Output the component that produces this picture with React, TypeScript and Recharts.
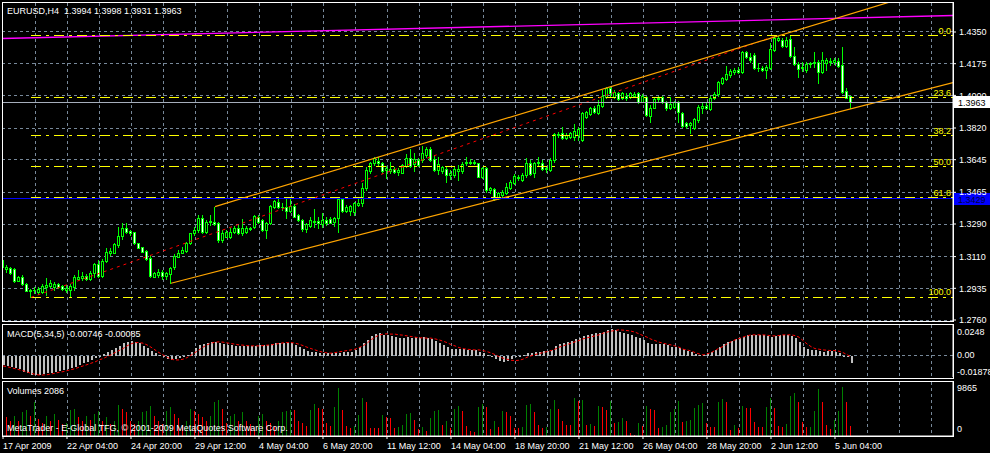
import React from 'react';
import { ComposedChart, Bar, Line, XAxis, YAxis, CartesianGrid, ReferenceLine, Cell } from 'recharts';

const FONT = "'Liberation Sans', Arial, sans-serif";
const GRID = '#778899';
const CANDLE = '#00ff00';
const YELLOW = '#ffff00';
const ORANGE = '#ffa500';

// EURUSD H4 candles, prices in pips (x 1e-4)
const opens = [
  13091,13044,13045,13040,12977,13000,12959,12920,12926,12917,
  12917,12941,12948,12944,12959,12948,12926,12926,12944,12988,
  12992,13003,12988,13018,13069,13003,13088,13132,13132,13174,
  13224,13266,13251,13244,13183,13161,13141,13101,13000,13009,
  13027,13003,13014,13051,13110,13132,13143,13183,13239,13257,
  13321,13248,13303,13303,13294,13202,13220,13217,13248,13266,
  13239,13248,13261,13275,13331,13312,13257,13294,13386,13413,
  13386,13386,13364,13389,13340,13312,13261,13279,13303,13308,
  13290,13312,13316,13303,13321,13426,13364,13364,13358,13395,
  13404,13487,13584,13625,13640,13625,13588,13584,13592,13579,
  13573,13610,13653,13621,13643,13643,13671,13706,13647,13588,
  13584,13592,13561,13561,13584,13584,13625,13634,13634,13625,
  13551,13597,13478,13481,13432,13450,13463,13487,13518,13551,
  13533,13561,13629,13570,13629,13625,13592,13588,13643,13787,
  13791,13763,13772,13773,13782,13754,13883,13896,13933,13901,
  13944,13993,14039,13993,14012,13984,13997,13993,13999,14012,
  13966,13993,13888,13933,13980,13993,13962,13929,13938,13962,
  13901,13846,13837,13818,13865,13933,13940,13925,13988,14006,
  14067,14091,14113,14128,14141,14128,14238,14214,14223,14150,
  14153,14141,14153,14251,14306,14306,14275,14312,14220,14172,
  14150,14141,14172,14177,14187,14131,14177,14190,14183,14190,
  14168,14025,13994,
];
const highs = [
  13095,13064,13051,13045,13003,13009,12963,12930,12941,12941,
  12959,12990,12981,12972,12963,12952,12953,12959,13009,13036,
  13027,13014,13032,13073,13091,13095,13156,13156,13187,13275,
  13297,13297,13257,13248,13187,13165,13147,13119,13025,13040,
  13036,13027,13055,13124,13147,13165,13193,13242,13275,13340,
  13340,13312,13340,13386,13303,13257,13257,13266,13279,13285,
  13316,13279,13275,13340,13340,13316,13303,13395,13423,13437,
  13404,13432,13432,13400,13345,13316,13297,13327,13371,13330,
  13353,13330,13327,13330,13441,13432,13395,13395,13413,13441,
  13515,13603,13634,13662,13662,13634,13610,13634,13603,13597,
  13621,13676,13702,13680,13653,13721,13717,13717,13671,13662,
  13610,13603,13588,13607,13616,13634,13662,13647,13643,13629,
  13607,13607,13492,13487,13469,13478,13515,13533,13566,13561,
  13573,13653,13643,13634,13662,13643,13610,13653,13791,13800,
  13827,13794,13800,13841,13828,13907,13914,13938,13944,13975,
  14030,14049,14049,14030,14021,14021,14012,14021,14017,14021,
  14006,13999,13947,13993,13999,13999,13969,13993,13969,13969,
  13907,13855,13855,13877,13947,13966,13957,13999,14021,14080,
  14104,14164,14146,14153,14159,14245,14245,14233,14233,14177,
  14164,14168,14288,14328,14328,14315,14325,14328,14269,14183,
  14187,14187,14187,14242,14196,14242,14205,14205,14205,14205,
  14269,14039,13998,
];
const lows = [
  13027,13027,13016,12972,12974,12953,12918,12885,12907,12902,
  12911,12898,12944,12926,12935,12926,12917,12885,12926,12981,
  12981,12981,12981,13000,13000,13000,13082,13119,13128,13165,
  13205,13239,13229,13180,13156,13134,13091,12996,12996,12996,
  12985,12985,12963,13040,13106,13128,13137,13180,13229,13248,
  13239,13242,13285,13285,13193,13193,13217,13211,13242,13235,
  13229,13242,13257,13270,13297,13253,13211,13290,13377,13377,
  13367,13321,13358,13327,13308,13253,13248,13275,13275,13266,
  13275,13285,13294,13279,13248,13358,13358,13340,13340,13389,
  13389,13478,13570,13616,13616,13573,13542,13570,13570,13561,
  13570,13603,13603,13584,13610,13634,13658,13640,13584,13566,
  13570,13524,13537,13551,13533,13573,13616,13619,13621,13548,
  13542,13469,13459,13423,13426,13441,13456,13481,13511,13533,
  13529,13551,13561,13551,13610,13588,13579,13584,13634,13772,
  13757,13757,13763,13754,13754,13749,13874,13892,13901,13896,
  13938,13988,13993,13988,13975,13980,13975,13988,13993,13957,
  13962,13888,13855,13929,13969,13957,13920,13925,13929,13855,
  13828,13818,13791,13815,13855,13901,13925,13920,13980,13999,
  14061,14085,14104,14117,14122,14122,14209,14187,14146,14135,
  14135,14098,14146,14245,14301,14269,14269,14214,14168,14104,
  14135,14131,14159,14159,14067,14122,14141,14168,14172,14159,
  14012,13984,13931,
];
const closes = [
  13051,13051,13021,12977,12996,12959,12922,12926,12924,12930,
  12948,12953,12963,12959,12941,12930,12935,12948,12996,13000,
  13003,12988,13021,13069,13003,13088,13137,13143,13180,13224,
  13266,13248,13239,13183,13159,13137,13097,13003,13018,13027,
  13003,13018,13045,13113,13132,13147,13183,13239,13257,13321,
  13248,13303,13308,13290,13202,13242,13248,13248,13270,13239,
  13266,13270,13270,13334,13303,13257,13294,13389,13417,13386,
  13382,13364,13389,13330,13312,13261,13290,13312,13308,13294,
  13312,13297,13297,13321,13426,13364,13386,13389,13404,13408,
  13487,13588,13625,13653,13629,13584,13597,13592,13579,13588,
  13616,13653,13610,13647,13616,13684,13702,13643,13588,13621,
  13603,13561,13573,13592,13592,13621,13634,13625,13625,13551,
  13597,13478,13487,13426,13459,13469,13492,13524,13555,13542,
  13561,13629,13566,13629,13634,13592,13597,13643,13787,13781,
  13763,13781,13791,13804,13815,13901,13907,13929,13907,13947,
  13999,14039,14012,14021,13980,14012,13984,14012,14006,13962,
  13999,13892,13933,13980,13988,13962,13929,13951,13962,13907,
  13833,13833,13846,13870,13938,13944,13933,13988,14006,14072,
  14095,14117,14135,14141,14128,14238,14214,14196,14150,14153,
  14141,14159,14257,14315,14315,14275,14306,14220,14172,14146,
  14159,14172,14177,14183,14131,14196,14196,14183,14196,14164,
  14021,13988,13963,
];

// MACD(5,34,5) histogram and signal, x 1e-4
const macdMain = [
  -90,-100,-107,-123,-133,-157,-173,-190,-190,-190,
  -180,-173,-167,-157,-147,-140,-133,-123,-107,-90,
  -73,-57,-40,-23,3,17,40,60,77,103,
  127,143,153,143,127,100,77,53,27,10,
  -13,-33,-40,-33,-23,-13,10,43,77,110,
  120,133,143,143,133,120,110,110,100,100,
  100,100,100,100,110,110,110,120,127,133,
  133,133,127,110,93,67,53,43,43,33,
  27,33,27,27,33,40,43,43,60,93,
  127,160,200,220,227,210,210,200,187,177,
  177,193,177,187,177,187,177,167,153,133,
  110,93,67,67,67,67,60,60,60,43,
  27,10,-13,-33,-47,-57,-47,-33,-13,3,
  10,27,33,43,43,53,53,60,100,120,
  133,143,153,167,177,200,210,220,227,233,
  243,260,267,260,243,233,220,210,193,177,
  160,133,120,120,120,120,110,93,93,77,
  67,53,43,20,10,10,27,43,60,87,
  120,143,153,167,177,193,210,210,210,210,
  210,200,187,200,210,210,210,200,177,143,
  93,67,60,60,53,43,53,53,43,27,
  -2,-13,-75,
];
const macdSignal = [
  -100,-107,-117,-127,-137,-147,-160,-173,-183,-190,
  -190,-187,-180,-173,-163,-157,-147,-137,-127,-113,
  -100,-87,-73,-60,-40,-27,-7,10,33,53,
  73,100,120,133,133,127,110,87,60,33,
  10,-13,-33,-40,-40,-33,-17,7,33,60,
  87,110,127,137,140,137,130,123,117,110,
  107,103,100,100,100,103,107,110,117,123,
  130,133,133,127,117,103,87,73,60,47,
  37,30,27,33,40,47,53,60,67,83,
  100,127,160,187,207,217,220,217,217,210,
  207,200,193,187,180,180,177,177,170,160,
  147,133,113,100,83,73,67,63,60,60,
  53,43,30,13,-7,-23,-33,-43,-47,-43,
  -33,-13,0,13,23,33,43,53,67,87,
  100,113,127,140,153,170,180,190,200,210,
  227,237,247,253,260,257,253,247,237,220,
  203,187,167,153,137,127,117,110,100,87,
  67,60,50,33,20,10,20,33,53,77,
  93,120,140,160,173,187,200,210,210,210,
  210,207,200,200,203,210,210,210,203,187,
  153,120,93,73,67,60,57,53,53,47,
  33,13,-9,
];

const volumes = [
  5100,3750,3050,4100,3050,4750,5250,4100,6800,3400,
  2700,4100,3050,4400,3200,2400,2700,5250,5450,3850,
  3050,4100,3200,4400,4950,3050,3750,2400,3050,6300,
  5450,4750,3050,2400,3050,4750,5100,6100,4100,3050,
  2400,5100,5900,4400,3600,2050,3050,5450,5100,4400,
  3750,3050,4100,6800,7350,5450,2700,4100,4400,3050,
  4750,3050,2400,1700,4100,4400,3050,2700,2050,3050,
  4750,4950,5250,5200,3050,2700,2050,5250,6450,5650,
  5450,2700,2050,5900,9700,5250,2050,1700,2050,4300,
  7700,6800,1700,1650,1600,4300,3900,3600,1550,1850,
  2200,4400,4550,3200,1350,1850,1000,3600,5100,5250,
  2250,3050,1700,5450,6100,5100,2050,1000,900,5900,
  6450,5900,1350,3050,1850,4950,4750,4100,1700,1550,
  1850,6300,6400,4750,2250,1700,1850,5450,7300,5450,
  3050,2250,2200,7700,7150,7300,2250,2500,2050,6100,
  5900,5250,7150,2700,2900,3600,3050,700,200,2700,
  2050,6100,5450,5250,1550,1850,2250,4750,5450,7150,
  2900,3050,3250,5650,6300,6600,2600,1850,1800,6800,
  7500,6800,1300,2250,1550,6100,5650,5600,2900,1850,
  1800,5900,7700,5650,2050,1850,2400,8150,8650,6950,
  2850,1850,1870,4950,9500,6800,2250,1500,3200,4950,
  9865,6800,2086,
];

const priceTicks = [1.435, 1.4175, 1.4, 1.382, 1.3645, 1.3465, 1.329, 1.311, 1.2935, 1.276];
const macdTicks = [0.0248, 0, -0.01878];
const macdTickText = ['0.0248', '0.00', '-0.01878'];
const macdTickShift = [0.5, -1.5, -2.5];
const volTicks = [9865, 0];
const volTickText = ['9865', '0'];
const volTickShift = [1, -7];

const timeBars = [0, 16, 32, 48, 64, 80, 96, 112, 128, 144, 160, 176, 192, 208];
const timeLabels = [
  '17 Apr 2009', '22 Apr 04:00', '24 Apr 20:00', '29 Apr 12:00', '4 May 04:00', '6 May 20:00',
  '11 May 12:00', '14 May 04:00', '18 May 20:00', '21 May 12:00', '26 May 04:00', '28 May 20:00',
  '2 Jun 12:00', '5 Jun 04:00',
];
const gridBars = [8, 16, 24, 32, 40, 48, 56, 64, 72, 80, 88, 96, 104, 112, 120, 128, 136, 144, 152, 160, 168, 176, 184, 192, 200, 208, 216, 224, 232];

const fibLevels = ['0.0', '23.6', '38.2', '50.0', '61.8', '100.0'];
const fibPrices = [1.4328, 1.3988, 1.3777, 1.3607, 1.3436, 1.2885];
const fibAnchors = [[7, 1.2885], [193, 1.4328]];
const upperTrend = [[53, 1.3386], [194, 1.433]];
const lowerTrend = [[42, 1.2963], [123, 1.3422]];
const magentaLine = [[-0.25, 1.4314], [237.5, 1.4441]];
const bidPrice = 1.3963;
const hLinePrice = 1.3429;

const X_DOMAIN: [number, number] = [-0.25, 237.5];
const X_END = 237.5;

const rows = opens.map((o, i) => ({
  i,
  open: o / 1e4,
  high: highs[i] / 1e4,
  low: lows[i] / 1e4,
  close: closes[i] / 1e4,
  hl: [lows[i] / 1e4, highs[i] / 1e4],
  macd: macdMain[i] / 1e4,
  signal: macdSignal[i] / 1e4,
  vol: volumes[i],
}));

const rayEnd = (t: number[][]) => t[0][1] + ((t[1][1] - t[0][1]) * (X_END - t[0][0])) / (t[1][0] - t[0][0]);

const Candle = (props: any) => {
  const { x, y, width, height, payload } = props;
  if (x == null || y == null || !payload) return null;
  const top = Math.min(y, y + height);
  const bot = Math.max(y, y + height);
  const range = payload.high - payload.low;
  const k = range > 0 ? (bot - top) / range : 0;
  const yO = top + (payload.high - payload.open) * k;
  const yC = top + (payload.high - payload.close) * k;
  const cx = Math.floor(x + width / 2);
  const bull = payload.close >= payload.open;
  const bt = Math.round(Math.min(yO, yC));
  const bb = Math.round(Math.max(yO, yC));
  return (
    <g shapeRendering="crispEdges">
      <line x1={cx + 0.5} x2={cx + 0.5} y1={Math.round(top)} y2={Math.round(bot) + 1} stroke={CANDLE} strokeWidth={1} />
      {bb - bt < 1 ? (
        <line x1={cx - 1} x2={cx + 2} y1={bt + 0.5} y2={bt + 0.5} stroke={CANDLE} strokeWidth={1} />
      ) : (
        <rect x={cx - 0.5} y={bt + 0.5} width={2} height={bb - bt} fill={bull ? '#000' : '#fff'} stroke={CANDLE} strokeWidth={1} />
      )}
    </g>
  );
};

const ThinBar = (w: number) => (props: any) => {
  const { x, y, width, height, fill } = props;
  if (x == null || y == null || !isFinite(height)) return null;
  const cx = Math.floor(x + width / 2);
  const t = Math.round(Math.min(y, y + height));
  const b = Math.round(Math.max(y, y + height));
  return <rect x={cx} y={t} width={w} height={Math.max(1, b - t)} fill={fill} shapeRendering="crispEdges" />;
};
const VolBar = ThinBar(1);
const MacdBar = ThinBar(2);

const PriceTag = (props: any) => {
  const { viewBox, text, bg, color } = props;
  if (!viewBox) return null;
  const right = viewBox.x + viewBox.width;
  const yy = Math.round(viewBox.y);
  return (
    <g>
      <rect x={right + 1} y={yy - 6} width={36} height={12} fill={bg} />
      <text x={right + 5} y={yy + 3.5} fill={color} fontSize={9} fontFamily={FONT}>{text}</text>
    </g>
  );
};

const TimeTick = (props: any) => {
  const { x, y, payload } = props;
  const idx = timeBars.indexOf(payload.value);
  if (idx < 0) return null;
  return (
    <text x={x} y={y + 8} fill="#fff" fontSize={9} fontFamily={FONT} textAnchor="start">{timeLabels[idx]}</text>
  );
};

const makeSideTick = (vals: number[], texts: string[], shifts: number[]) => (props: any) => {
  const { x, y, payload } = props;
  const idx = vals.indexOf(payload.value);
  if (idx < 0) return null;
  return (
    <text x={x} y={y + shifts[idx] + 3.2} fill="#fff" fontSize={9} fontFamily={FONT} textAnchor="start">{texts[idx]}</text>
  );
};
const MacdTick = makeSideTick(macdTicks, macdTickText, macdTickShift);
const VolTick = makeSideTick(volTicks, volTickText, volTickShift);

const fibLabel = (value: string) => ({ value, position: 'insideBottomRight', fill: YELLOW, fontSize: 9, fontFamily: FONT, offset: 2 });

export default function App() {
  const upEnd = rayEnd(upperTrend);
  const lowEnd = rayEnd(lowerTrend);
  const txt: React.CSSProperties = {
    position: 'absolute', color: '#fff', fontFamily: FONT, fontSize: 9, lineHeight: '11px', whiteSpace: 'pre',
  };
  const border = (top: number, height: number): React.CSSProperties => ({
    position: 'absolute', left: 2, top, width: 952, height, border: '1px solid #fff', boxSizing: 'border-box', pointerEvents: 'none',
  });
  return (
    <div style={{ position: 'absolute', left: 0, top: 0, width: 990, height: 453, background: '#000', overflow: 'hidden' }}>
      <div style={{ position: 'absolute', left: 0, top: 0 }}>
        <ComposedChart width={990} height={330} data={rows} margin={{ top: 3, right: 0, bottom: 9, left: 2 }}>
          <CartesianGrid stroke={GRID} strokeDasharray="3 3" horizontalValues={priceTicks} verticalValues={gridBars} shapeRendering="crispEdges" />
          <XAxis type="number" dataKey="i" domain={X_DOMAIN} allowDataOverflow hide ticks={gridBars} />
          <YAxis
            orientation="right" width={37} domain={[1.27545, 1.45101]} allowDataOverflow ticks={priceTicks} interval={0}
            tickFormatter={(v: number) => v.toFixed(4)} tick={{ fill: '#fff', fontSize: 9, fontFamily: FONT }}
            tickLine={{ stroke: '#fff' }} axisLine={{ stroke: '#fff' }} tickSize={3} tickMargin={3}
          />
          <ReferenceLine segment={[{ x: magentaLine[0][0], y: magentaLine[0][1] }, { x: magentaLine[1][0], y: magentaLine[1][1] }]} stroke="#ff00ff" strokeWidth={1.3} ifOverflow="hidden" />
          {fibPrices.map((p, k) => (
            <ReferenceLine key={'f' + k} segment={[{ x: fibAnchors[0][0], y: p }, { x: X_END, y: p }]} stroke={YELLOW} strokeDasharray="10 5 3 5" ifOverflow="hidden" shapeRendering="crispEdges" label={fibLabel(fibLevels[k])} />
          ))}
          <ReferenceLine segment={[{ x: fibAnchors[0][0], y: fibAnchors[0][1] }, { x: fibAnchors[1][0], y: fibAnchors[1][1] }]} stroke="#ff0000" strokeDasharray="3 4" ifOverflow="hidden" />
          <ReferenceLine segment={[{ x: upperTrend[0][0], y: upperTrend[0][1] }, { x: X_END, y: upEnd }]} stroke={ORANGE} strokeWidth={1.2} ifOverflow="hidden" />
          <ReferenceLine segment={[{ x: lowerTrend[0][0], y: lowerTrend[0][1] }, { x: X_END, y: lowEnd }]} stroke={ORANGE} strokeWidth={1.2} ifOverflow="hidden" />
          <ReferenceLine y={hLinePrice} stroke="#0000ff" shapeRendering="crispEdges" label={<PriceTag text="1.3429" bg="#0000ff" color="#000040" />} />
          <ReferenceLine y={bidPrice} stroke="#a6aebb" shapeRendering="crispEdges" label={<PriceTag text="1.3963" bg="#ffffff" color="#000000" />} />
          <Bar dataKey="hl" barSize={3} shape={<Candle />} isAnimationActive={false} />
        </ComposedChart>
      </div>

      <div style={{ position: 'absolute', left: 0, top: 323 }}>
        <ComposedChart width={990} height={56} data={rows} margin={{ top: 2, right: 0, bottom: 2, left: 2 }}>
          <CartesianGrid stroke={GRID} strokeDasharray="3 3" horizontalValues={[0]} verticalValues={gridBars} shapeRendering="crispEdges" />
          <XAxis type="number" dataKey="i" domain={X_DOMAIN} allowDataOverflow hide ticks={gridBars} />
          <YAxis
            orientation="right" width={37} domain={[-0.021, 0.0308]} allowDataOverflow ticks={macdTicks} interval={0}
            tick={<MacdTick />} tickLine={false} axisLine={{ stroke: '#fff' }} tickSize={0} tickMargin={4}
          />
          <Bar dataKey="macd" barSize={2} fill="#c0c0c0" shape={<MacdBar />} isAnimationActive={false} />
          <Line dataKey="signal" type="linear" stroke="#ff0000" strokeDasharray="3 2" dot={false} isAnimationActive={false} />
        </ComposedChart>
      </div>

      <div style={{ position: 'absolute', left: 0, top: 379 }}>
        <ComposedChart width={990} height={74} data={rows} margin={{ top: 3, right: 0, bottom: 0, left: 2 }}>
          <CartesianGrid stroke={GRID} strokeDasharray="3 3" horizontal={false} verticalValues={gridBars} shapeRendering="crispEdges" />
          <XAxis
            type="number" dataKey="i" domain={X_DOMAIN} allowDataOverflow ticks={timeBars} interval={0} height={17}
            tick={<TimeTick />} tickLine={{ stroke: '#fff' }} axisLine={{ stroke: '#fff' }} tickSize={3} tickMargin={2}
          />
          <YAxis
            orientation="right" width={37} domain={[0, 10900]} allowDataOverflow ticks={volTicks} interval={0}
            tick={<VolTick />} tickLine={false} axisLine={{ stroke: '#fff' }} tickSize={0} tickMargin={4}
          />
          <Bar dataKey="vol" barSize={1} shape={<VolBar />} isAnimationActive={false}>
            {volumes.map((v, i) => (
              <Cell key={i} fill={i === 0 || v > volumes[i - 1] ? '#008000' : '#ff0000'} />
            ))}
          </Bar>
        </ComposedChart>
      </div>

      <div style={border(2, 320)} />
      <div style={border(324, 55)} />
      <div style={border(381, 56)} />

      <div style={{ ...txt, left: 7, top: 6 }}>{'EURUSD,H4  1.3994 1.3998 1.3931 1.3963'}</div>
      <div style={{ ...txt, left: 7, top: 329 }}>{'MACD(5,34,5) -0.00746 -0.00085'}</div>
      <div style={{ ...txt, left: 7, top: 386 }}>{'Volumes 2086'}</div>
      <div style={{ ...txt, left: 7, top: 423 }}>{'MetaTrader - E-Global TFG, © 2001-2009 MetaQuotes Software Corp.'}</div>
    </div>
  );
}
